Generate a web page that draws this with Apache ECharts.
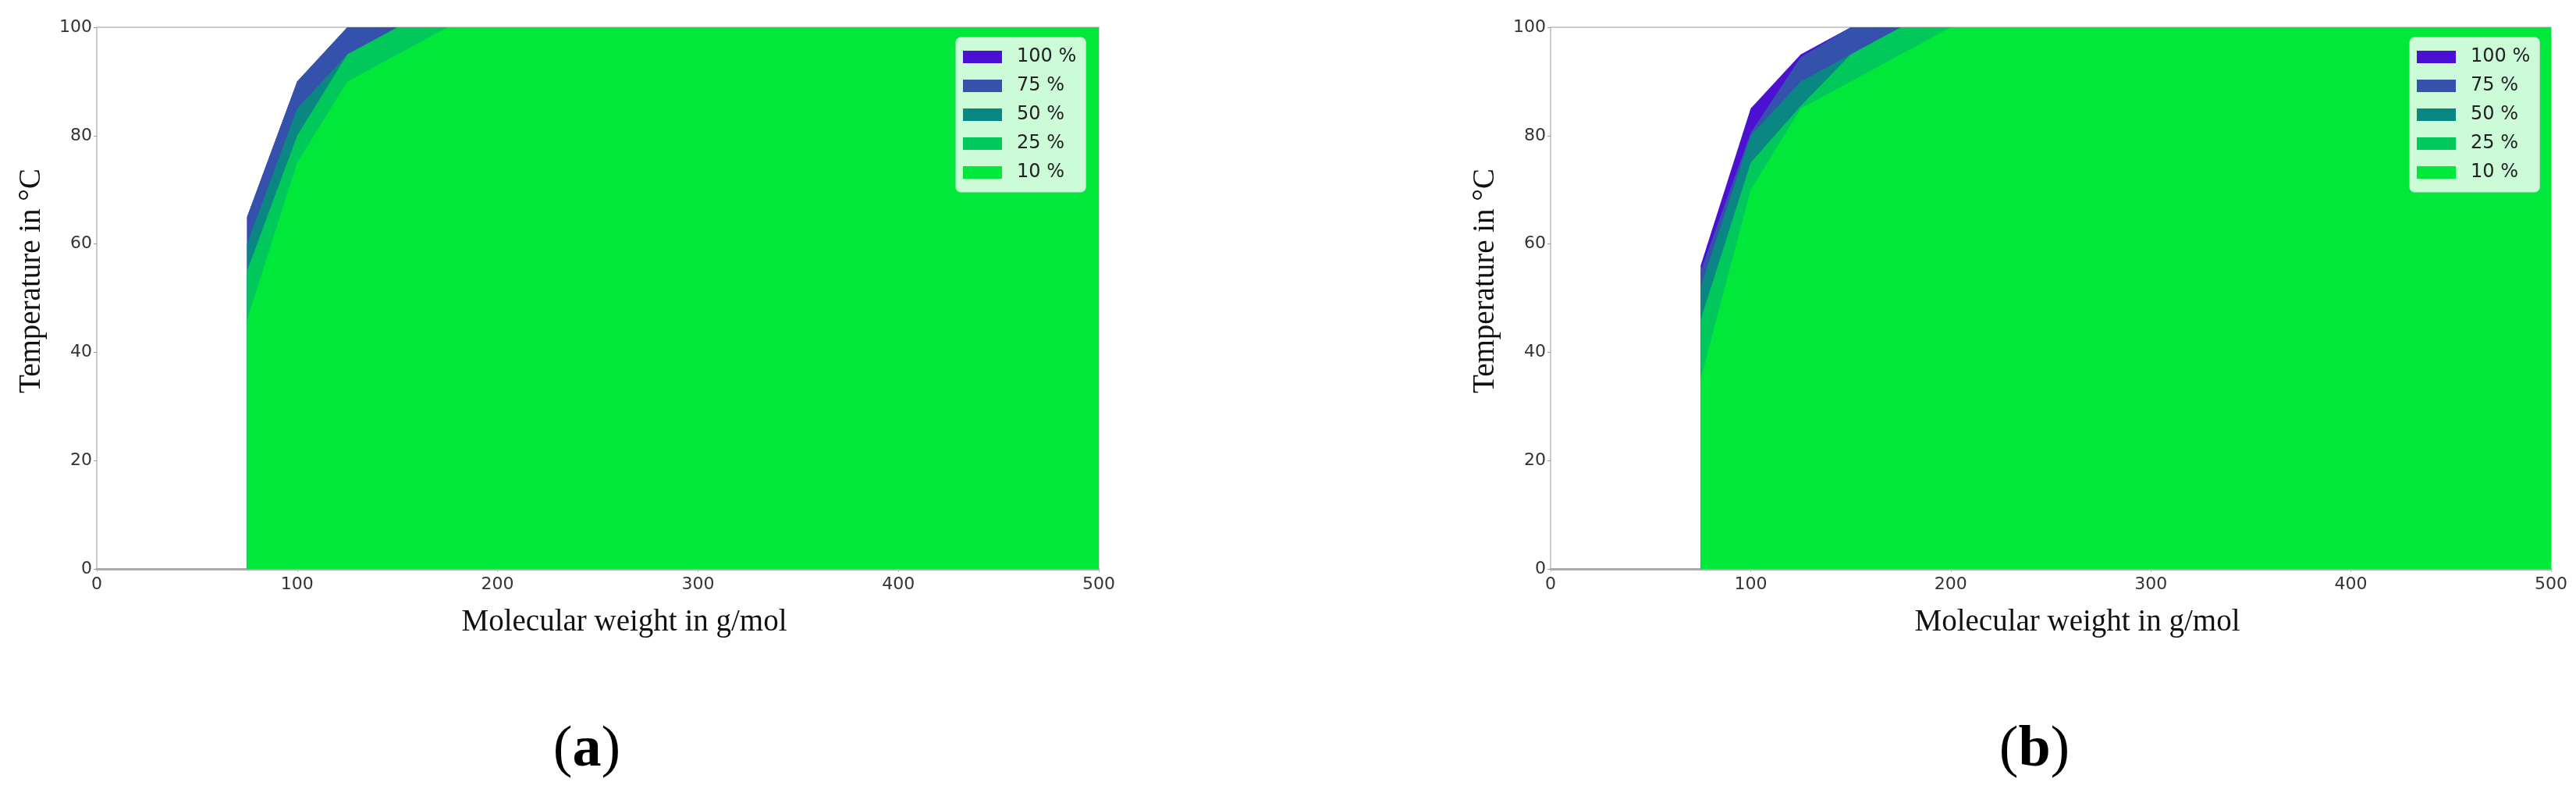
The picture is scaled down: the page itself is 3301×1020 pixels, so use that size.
<!DOCTYPE html>
<html>
<head>
<meta charset="utf-8">
<script src="https://cdn.jsdelivr.net/npm/echarts@6/dist/echarts.min.js"></script>
<style>
  html, body { margin: 0; padding: 0; background: #fff; }
  #main { width: 3301px; height: 1020px; }
</style>
</head>
<body>
<div id="main"></div>
<script>
// molecular weight sample points (g/mol)
var mw = [75, 100, 125, 150, 175, 200, 250, 300, 350, 400, 450, 500];

// series names / colours
var levels = ['100 %', '75 %', '50 %', '25 %', '10 %'];
var colors = ['#4b10d2', '#3452ac', '#0a8782', '#00c85a', '#00e93a'];

// (a) temperature limits in °C
var a100 = [65, 90, 100, 100, 100, 100, 100, 100, 100, 100, 100, 100];
var a75  = [65, 90, 100, 100, 100, 100, 100, 100, 100, 100, 100, 100];
var a50  = [60, 85, 95, 100, 100, 100, 100, 100, 100, 100, 100, 100];
var a25  = [55, 80, 95, 100, 100, 100, 100, 100, 100, 100, 100, 100];
var a10  = [46, 75, 90, 95, 100, 100, 100, 100, 100, 100, 100, 100];

// (b) temperature limits in °C
var b100 = [56, 85, 95, 100, 100, 100, 100, 100, 100, 100, 100, 100];
var b75  = [55, 80.5, 94.5, 100, 100, 100, 100, 100, 100, 100, 100, 100];
var b50  = [52, 80, 90, 95, 100, 100, 100, 100, 100, 100, 100, 100];
var b25  = [46, 75, 85.5, 95, 100, 100, 100, 100, 100, 100, 100, 100];
var b10  = [35, 70, 85, 90, 95, 100, 100, 100, 100, 100, 100, 100];

var xTicks = [0, 100, 200, 300, 400, 500];
var yTicks = [0, 20, 40, 60, 80, 100];

var chartDom = document.getElementById('main');
var myChart = echarts.init(chartDom, null, { renderer: 'canvas' });
var option;

function pairs(ys) {
  return mw.map(function (x, i) { return [x, ys[i]]; });
}

function areaSeries(idx, sets) {
  return sets.map(function (ys, i) {
    return {
      name: levels[i],
      type: 'line',
      xAxisIndex: idx,
      yAxisIndex: idx,
      data: pairs(ys),
      symbol: 'none',
      silent: true,
      lineStyle: { width: 0 },
      itemStyle: { color: colors[i] },
      areaStyle: { color: colors[i], opacity: 1, origin: 'start' }
    };
  });
}

var tickFont = { fontFamily: 'DejaVu Sans', fontSize: 22, color: '#333' };

function xAx(idx) {
  return {
    gridIndex: idx,
    type: 'value',
    min: xTicks[0],
    max: xTicks[xTicks.length - 1],
    interval: 100,
    name: 'Molecular weight in g/mol',
    nameLocation: 'middle',
    nameGap: 49,
    nameTextStyle: { fontFamily: 'Liberation Serif', fontSize: 39, color: '#111', padding: [0, 0, 0, 68] },
    axisLine: { lineStyle: { color: '#aaa', width: 3 } },
    axisTick: { show: true, length: 4, lineStyle: { color: '#bbb' } },
    axisLabel: Object.assign({ margin: 9 }, tickFont),
    splitLine: { show: false }
  };
}

function yAx(idx) {
  return {
    gridIndex: idx,
    type: 'value',
    min: yTicks[0],
    max: yTicks[yTicks.length - 1],
    interval: 20,
    name: 'Temperature in °C',
    nameLocation: 'middle',
    nameRotate: 90,
    nameGap: 64,
    nameTextStyle: { fontFamily: 'Liberation Serif', fontSize: 39, color: '#111', padding: [0, 0, 0, 44] },
    axisLine: { show: true, lineStyle: { color: '#ccc', width: 2 } },
    axisTick: { show: true, length: 4, lineStyle: { color: '#999' } },
    axisLabel: Object.assign({ margin: 6 }, tickFont),
    splitLine: { show: false }
  };
}

function legendAt(left) {
  return {
    orient: 'vertical',
    left: left,
    top: 48,
    data: levels,
    icon: 'rect',
    itemWidth: 50,
    itemHeight: 16,
    itemGap: 13,
    padding: [13, 12, 13, 9],
    backgroundColor: 'rgba(255,255,255,0.8)',
    borderColor: '#ddd',
    borderWidth: 1,
    borderRadius: 6,
    selectedMode: false,
    textStyle: { fontFamily: 'DejaVu Sans', fontSize: 24, color: '#222', padding: [0, 0, 0, 14] }
  };
}

function panelLabel(x, ch) {
  return {
    type: 'text',
    x: x,
    y: 962,
    style: {
      text: '{p|(}{b|' + ch + '}{p|)}',
      textAlign: 'center',
      textVerticalAlign: 'middle',
      rich: {
        p: { fontFamily: 'Liberation Serif', fontSize: 74, fill: '#000' },
        b: { fontFamily: 'Liberation Serif', fontSize: 74, fontWeight: 'bold', fill: '#000' }
      }
    }
  };
}

option = {
  backgroundColor: '#fff',
  animation: false,
  grid: [
    { left: 124, top: 35, width: 1284, height: 694, show: true, borderColor: '#ccc', borderWidth: 2 },
    { left: 1987, top: 35, width: 1282, height: 694, show: true, borderColor: '#ccc', borderWidth: 2 }
  ],
  xAxis: [xAx(0), xAx(1)],
  yAxis: [yAx(0), yAx(1)],
  legend: [legendAt(1225), legendAt(3088)],
  graphic: [panelLabel(752, 'a'), panelLabel(2607, 'b')],
  series: areaSeries(0, [a100, a75, a50, a25, a10]).concat(areaSeries(1, [b100, b75, b50, b25, b10]))
};

option && myChart.setOption(option);
</script>
</body>
</html>
